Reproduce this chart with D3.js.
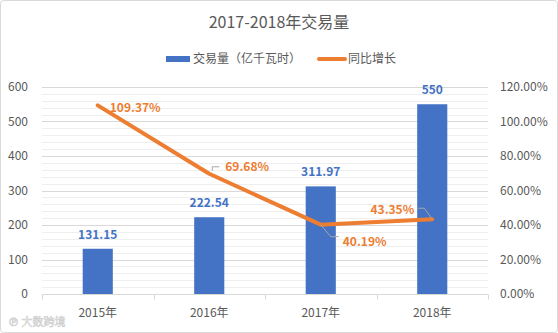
<!DOCTYPE html>
<html>
<head>
<meta charset="utf-8">
<script src="https://cdn.jsdelivr.net/npm/d3@7"></script>
<style>
  html, body { margin: 0; padding: 0; background: #fff; }
  svg { display: block; }
  text { font-family: "Microsoft YaHei", "Noto Sans CJK SC", "DejaVu Sans", sans-serif; }
</style>
</head>
<body>
<svg id="chart" width="558" height="333"></svg>
<script>
// Annual trading volume (100 million kWh) and year-on-year growth
const years = ["2015年", "2016年", "2017年", "2018年"];
const volume = [131.15, 222.54, 311.97, 550];
const growth = [109.37, 69.68, 40.19, 43.35];
const leftTicks = [0, 100, 200, 300, 400, 500, 600];
const rightTicks = [0, 20, 40, 60, 80, 100, 120];

const W = 558, H = 333;
const margin = { left: 42, right: 70, top: 87, bottom: 38 };
const svg = d3.select("#chart");

// outer frame
svg.append("rect").attr("x", 0.5).attr("y", 0.5).attr("width", W - 1).attr("height", H - 1)
  .attr("rx", 3).attr("fill", "#fff").attr("stroke", "#d9d9d9");

const x = d3.scaleBand().domain(years).range([margin.left, W - margin.right]).paddingInner(0.73).paddingOuter(0.365);
const xStep = d3.scaleBand().domain(years).range([margin.left, W - margin.right]);
const y = d3.scaleLinear().domain([0, 600]).range([H - margin.bottom - 1, margin.top]);
const yR = d3.scaleLinear().domain([0, 120]).range([H - margin.bottom - 1, margin.top]);

const blue = "#4472C4", orange = "#ED7D31";

// minor gridlines
svg.append("g").selectAll("line").data(d3.range(20, 600, 20).filter(v => v % 100 !== 0))
  .join("line")
  .attr("x1", margin.left).attr("x2", W - margin.right)
  .attr("y1", d => Math.round(y(d)) + 0.5).attr("y2", d => Math.round(y(d)) + 0.5)
  .attr("stroke", "#efefef");

// major gridlines
svg.append("g").selectAll("line").data(leftTicks.filter(v => v > 0))
  .join("line")
  .attr("x1", margin.left).attr("x2", W - margin.right)
  .attr("y1", d => Math.round(y(d)) + 0.5).attr("y2", d => Math.round(y(d)) + 0.5)
  .attr("stroke", "#d9d9d9");

// left axis labels
const leftAxis = d3.axisLeft(y).tickValues(leftTicks).tickSize(0).tickPadding(14);
const gL = svg.append("g").attr("transform", `translate(${margin.left},0)`).call(leftAxis);
gL.select(".domain").remove();
gL.selectAll("text").attr("fill", "#595959").attr("font-size", 12);

// right axis labels
const rightAxis = d3.axisRight(yR).tickValues(rightTicks).tickSize(0).tickPadding(12)
  .tickFormat(d => d.toFixed(2) + "%");
const gR = svg.append("g").attr("transform", `translate(${W - margin.right},0)`).call(rightAxis);
gR.select(".domain").remove();
gR.selectAll("text").attr("fill", "#595959").attr("font-size", 12);

// bars
svg.append("g").selectAll("rect").data(years)
  .join("rect")
  .attr("x", (d) => x(d))
  .attr("width", x.bandwidth())
  .attr("y", (d, i) => y(volume[i]))
  .attr("height", (d, i) => y(0) - y(volume[i]))
  .attr("fill", blue);

// category axis
const base = Math.round(y(0)) + 0.5;
svg.append("line").attr("x1", margin.left).attr("x2", W - margin.right)
  .attr("y1", base).attr("y2", base).attr("stroke", "#d9d9d9");
const bounds = years.map(d => xStep(d)).concat([W - margin.right]);
svg.append("g").selectAll("line").data(bounds).join("line")
  .attr("x1", d => Math.round(d) + 0.5).attr("x2", d => Math.round(d) + 0.5)
  .attr("y1", base).attr("y2", base + 5).attr("stroke", "#d9d9d9");
svg.append("g").selectAll("text").data(years).join("text")
  .attr("x", d => xStep(d) + xStep.bandwidth() / 2)
  .attr("y", base + 22)
  .attr("text-anchor", "middle").attr("font-size", 12).attr("fill", "#595959")
  .text(d => d);

// growth line
const cx = d => x(d) + x.bandwidth() / 2;
const line = d3.line().x((d, i) => cx(years[i])).y(d => yR(d));
svg.append("path").datum(growth).attr("d", line)
  .attr("fill", "none").attr("stroke", orange).attr("stroke-width", 4)
  .attr("stroke-linejoin", "round").attr("stroke-linecap", "round");

// bar value labels
svg.append("g").selectAll("text").data(years).join("text")
  .attr("x", d => cx(d))
  .attr("y", (d, i) => y(volume[i]) - 10)
  .attr("text-anchor", "middle").attr("font-size", 12).attr("font-weight", "bold")
  .attr("fill", blue)
  .text((d, i) => String(volume[i]));

// growth labels with leader lines
const labelOffsets = [
  { dx: 12, dy: 3, anchor: "start", leader: null },
  { dx: 16, dy: -7, anchor: "start", leader: [[3, -3], [3, -7], [10, -7]] },
  { dx: 22, dy: 17, anchor: "start", leader: [[0, 0], [10, 12], [18, 12]] },
  { dx: -18, dy: -9, anchor: "end", leader: [[0, 0], [-8, -11], [-14, -11]] }
];
growth.forEach((g, i) => {
  const px = cx(years[i]), py = yR(g);
  const o = labelOffsets[i];
  if (o.leader) {
    svg.append("path")
      .attr("d", d3.line()(o.leader.map(p => [px + p[0], py + p[1]])))
      .attr("fill", "none").attr("stroke", "#a6a6a6").attr("stroke-width", 1);
  }
  svg.append("text").attr("x", px + o.dx).attr("y", py + o.dy + 4)
    .attr("text-anchor", o.anchor).attr("font-size", 12).attr("font-weight", "bold")
    .attr("fill", orange).text(g.toFixed(2) + "%");
});

// title
svg.append("text").attr("x", W / 2).attr("y", 28).attr("text-anchor", "middle")
  .attr("font-size", 16).attr("fill", "#595959").text("2017-2018年交易量");

// legend
const lg = svg.append("g");
lg.append("rect").attr("x", 166).attr("y", 56).attr("width", 24).attr("height", 6).attr("fill", blue);
lg.append("text").attr("x", 193).attr("y", 63).attr("font-size", 12).attr("fill", "#595959").text("交易量（亿千瓦时）");
lg.append("line").attr("x1", 319).attr("x2", 345).attr("y1", 59).attr("y2", 59)
  .attr("stroke", orange).attr("stroke-width", 4).attr("stroke-linecap", "round");
lg.append("text").attr("x", 348).attr("y", 63).attr("font-size", 12).attr("fill", "#595959").text("同比增长");

// watermark
svg.append("text").attr("x", 8).attr("y", 326).attr("font-size", 11)
  .attr("fill", "#fafafa").attr("stroke", "#cfcfcf").attr("stroke-width", 0.6)
  .text("℗ 大数跨境");
</script>
</body>
</html>
